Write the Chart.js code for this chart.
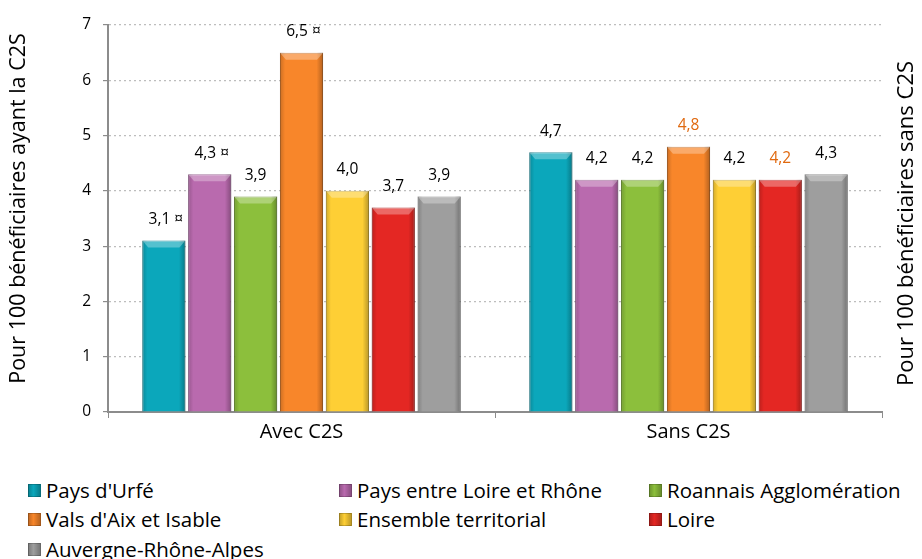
<!DOCTYPE html>
<html>
<head>
<meta charset="utf-8">
<script src="https://cdn.jsdelivr.net/npm/chart.js@4.4.1/dist/chart.umd.min.js"></script>
<style>
  html, body { margin: 0; padding: 0; background: #fff; }
  #wrap { position: relative; width: 922px; height: 559px; }
  #chart-box { position: absolute; left: 0; top: 0; width: 922px; height: 470px; }
  #legend { position: absolute; left: 0; top: 0; width: 922px; font-family: 'Open Sans', sans-serif; font-size: 20.5px; color: #000; }
  .lg-item { position: absolute; display: flex; align-items: center; white-space: nowrap; height: 28px; }
  .lg-box { width: 13px; height: 13px; margin-right: 5px; border: 1px solid rgba(0,0,0,0.2); box-sizing: border-box; }
</style>
</head>
<body>
<div id="wrap">
  <div id="chart-box"><canvas id="c2sChart"></canvas></div>
  <div id="legend"></div>
</div>
<script>
// Données
const categories = ['Avec C2S', 'Sans C2S'];
const territories = ['Pays d\'Urfé', 'Pays entre Loire et Rhône', 'Roannais Agglomération', 'Vals d\'Aix et Isable', 'Ensemble territorial', 'Loire', 'Auvergne-Rhône-Alpes'];
const paysUrfe = [3.1, 4.7];
const paysLoireRhone = [4.3, 4.2];
const roannais = [3.9, 4.2];
const valsAix = [6.5, 4.8];
const ensemble = [4.0, 4.2];
const loire = [3.7, 4.2];
const auraRegion = [3.9, 4.3];
// marqueur "¤" (différence significative) par série
const notes = [['¤', ''], ['¤', ''], ['', ''], ['¤', ''], ['', ''], ['', ''], ['', '']];
const yTicks = [0, 1, 2, 3, 4, 5, 6, 7];
const leftTitle = 'Pour 100 bénéficiaires ayant la C2S';
const rightTitle = 'Pour 100 bénéficiaires sans C2S';

// Styles
const colors = ['#0BA7BB', '#B96AAE', '#8CBF3C', '#F8862A', '#FECF35', '#E42723', '#9E9E9E'];
const labelColors = [['#000', '#000'], ['#000', '#000'], ['#000', '#000'], ['#000', '#E0690F'], ['#000', '#000'], ['#000', '#E0690F'], ['#000', '#000']];
const seriesValues = [paysUrfe, paysLoireRhone, roannais, valsAix, ensemble, loire, auraRegion];

const fmt = (v) => v.toLocaleString('fr-FR', { minimumFractionDigits: 1, maximumFractionDigits: 1 });

function shade(hex, amt) {
    const n = parseInt(hex.slice(1), 16);
    let r = (n >> 16) & 255, g = (n >> 8) & 255, b = n & 255;
    const f = (c) => Math.max(0, Math.min(255, Math.round(amt < 0 ? c * (1 + amt) : c + (255 - c) * amt)));
    return `rgb(${f(r)},${f(g)},${f(b)})`;
}

// Effet relief des barres
const bevelPlugin = {
    id: 'bevel',
    afterDatasetsDraw(chart) {
        const ctx = chart.ctx;
        chart.data.datasets.forEach((ds, i) => {
            const meta = chart.getDatasetMeta(i);
            meta.data.forEach((bar) => {
                const left = bar.x - bar.width / 2, right = bar.x + bar.width / 2;
                const top = bar.y, bottom = bar.base;
                const g = ctx.createLinearGradient(left, 0, right, 0);
                g.addColorStop(0, 'rgba(0,0,0,0.18)');
                g.addColorStop(0.12, 'rgba(0,0,0,0)');
                g.addColorStop(0.85, 'rgba(0,0,0,0)');
                g.addColorStop(1, 'rgba(0,0,0,0.28)');
                ctx.save();
                ctx.fillStyle = g;
                ctx.fillRect(left, top, bar.width, bottom - top);
                // biseau supérieur
                const bh = Math.min(7, (bottom - top) / 2);
                ctx.beginPath();
                ctx.moveTo(left, top);
                ctx.lineTo(right, top);
                ctx.lineTo(right - 6, top + bh);
                ctx.lineTo(left + 6, top + bh);
                ctx.closePath();
                ctx.fillStyle = 'rgba(255,255,255,0.3)';
                ctx.fill();
                ctx.restore();
            });
        });
    }
};

function drawVertical(ctx, text, x, y, size) {
    ctx.save();
    ctx.translate(x, y);
    ctx.rotate(-Math.PI / 2);
    ctx.font = `${size}px 'Open Sans', sans-serif`;
    ctx.fillStyle = '#000';
    ctx.textAlign = 'center';
    ctx.textBaseline = 'middle';
    ctx.fillText(text, 0, 0);
    ctx.restore();
}

// Étiquettes de valeurs + titres des axes
const valueLabels = {
    id: 'valueLabels',
    afterDatasetsDraw(chart) {
        const ctx = chart.ctx;
        ctx.save();
        ctx.font = "15.5px 'Open Sans', sans-serif";
        ctx.textAlign = 'center';
        ctx.textBaseline = 'middle';
        chart.data.datasets.forEach((ds, i) => {
            chart.getDatasetMeta(i).data.forEach((bar, j) => {
                const note = notes[i][j];
                const txt = fmt(ds.data[j]) + (note ? ' ' + note : '');
                ctx.fillStyle = labelColors[i][j];
                ctx.fillText(txt, bar.x + (note ? 2 : 0), bar.y - 21);
            });
        });
        ctx.restore();
        const ca = chart.chartArea;
        const mid = (ca.top + ca.bottom) / 2;
        drawVertical(ctx, leftTitle, 19, mid - 10, 21.5);
        drawVertical(ctx, rightTitle, 907, mid + 5, 22);
    }
};

const datasets = territories.map((name, i) => ({
    label: name,
    data: seriesValues[i],
    backgroundColor: colors[i],
    borderColor: shade(colors[i], -0.25),
    borderWidth: 1,
    barPercentage: 0.94,
    categoryPercentage: 0.83
}));

Chart.defaults.font.family = "'Open Sans', sans-serif";
Chart.defaults.color = '#000';

new Chart(document.getElementById('c2sChart'), {
    type: 'bar',
    data: { labels: categories, datasets },
    options: {
        responsive: true,
        maintainAspectRatio: false,
        animation: false,
        layout: { padding: { top: 25, left: 0, right: 0, bottom: 0 } },
        plugins: {
            legend: { display: false },
            tooltip: { enabled: false }
        },
        scales: {
            x: {
                grid: { display: true, drawOnChartArea: false, offset: true, tickLength: 6, color: '#8c8c8c' },
                border: { color: '#8c8c8c', width: 2 },
                ticks: { font: { size: 20 }, padding: 2 },
                afterFit(s) { s.height = 58; }
            },
            y: {
                min: 0, max: 7,
                afterBuildTicks(s) { s.ticks = yTicks.map(v => ({ value: v })); },
                grid: {
                    color: (c) => c.tick && c.tick.value === 0 ? 'rgba(0,0,0,0)' : '#bdbdbd',
                    lineWidth: 1.2,
                    tickColor: '#8c8c8c',
                    tickLength: 5
                },
                border: { color: '#8c8c8c', width: 2, dash: [2, 3] },
                ticks: { font: { size: 15.5 }, padding: 12 },
                afterFit(s) { s.width = 108; }
            },
            y2: {
                position: 'right',
                min: 0, max: 7,
                grid: { display: false },
                border: { display: false },
                ticks: { display: false },
                afterFit(s) { s.width = 40; }
            }
        }
    },
    plugins: [bevelPlugin, valueLabels]
});

// Légende HTML
const legendEl = document.getElementById('legend');
const colLeft = [28, 339, 649];
const rowMid = [490, 519, 549];
territories.forEach((name, i) => {
    const item = document.createElement('div');
    item.className = 'lg-item';
    item.style.left = colLeft[i % 3] + 'px';
    item.style.top = (rowMid[Math.floor(i / 3)] - 14) + 'px';
    item.innerHTML = `<span class="lg-box" style="background:linear-gradient(90deg, ${shade(colors[i], -0.2)}, ${colors[i]} 40%, ${shade(colors[i], -0.25)})"></span><span>${name}</span>`;
    legendEl.appendChild(item);
});
</script>
</body>
</html>
